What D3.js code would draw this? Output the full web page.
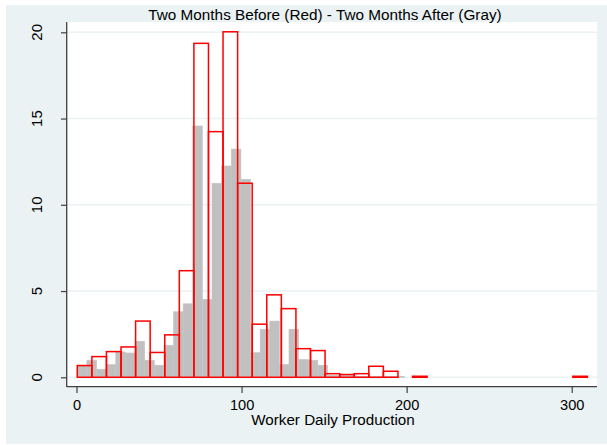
<!DOCTYPE html>
<html>
<head>
<meta charset="utf-8">
<script src="https://cdn.jsdelivr.net/npm/d3@7"></script>
<style>
  html, body { margin: 0; padding: 0; background: #ffffff; }
  svg { display: block; }
  text { font-family: "Liberation Sans", Arial, Helvetica, sans-serif; fill: #000; }
</style>
</head>
<body>
<svg id="chart" width="607" height="445"></svg>
<script>
// Percent of workers per bin, before period (red outline bars)
const beforeStart = 0.48;
const beforeWidth = 8.83;
const beforePct = [0.68, 1.2, 1.49, 1.76, 3.26, 1.44, 2.46, 6.18, 19.36, 14.24,
                   20.03, 11.25, 3.08, 4.78, 3.98, 1.66, 1.55, 0.21, 0.16, 0.21,
                   0.64, 0.35, 0, 0.06, 0, 0, 0, 0, 0, 0,
                   0, 0, 0, 0, 0.06];

// Percent of workers per bin, after period (gray filled bars)
const afterStart = 0.48;
const afterWidth = 5.83;
const afterPct = [0.7, 0.99, 0.47, 0.74, 1.47, 1.41, 2.09, 0.99, 0.7, 1.86,
                  3.8, 4.26, 14.57, 4.52, 11.25, 12.25, 13.23, 11.48, 1.43, 2.79,
                  3.26, 0.74, 2.79, 1.03, 0.99, 0.7, 0.12, 0.1, 0.1, 0.06,
                  0.06, 0.06, 0.06, 0.06];

const xTicks = [0, 100, 200, 300];
const yTicks = [0, 5, 10, 15, 20];
const titleText = "Two Months Before (Red) - Two Months After (Gray)";
const xTitle = "Worker Daily Production";

const svg = d3.select("#chart");

// graph and plot regions
const outer = { x0: 6, y0: 5, x1: 607, y1: 444 };
const plot = { x0: 67, y0: 22, x1: 597, y1: 387 };

const x = d3.scaleLinear().domain([0, 300]).range([76.5, 571.7]);
const y = d3.scaleLinear().domain([0, 20]).range([377.3, 32.3]);

svg.append("rect")
  .attr("x", outer.x0).attr("y", outer.y0)
  .attr("width", outer.x1 - outer.x0).attr("height", outer.y1 - outer.y0)
  .attr("fill", "#eaf2f3");

svg.append("rect")
  .attr("x", plot.x0).attr("y", plot.y0)
  .attr("width", plot.x1 - plot.x0).attr("height", plot.y1 - plot.y0)
  .attr("fill", "#ffffff");

// horizontal grid
svg.append("g").selectAll("line").data(yTicks).join("line")
  .attr("x1", plot.x0).attr("x2", plot.x1)
  .attr("y1", d => y(d)).attr("y2", d => y(d))
  .attr("stroke", "#eaf2f3").attr("stroke-width", 1.5);

const afterBins = afterPct.map((v, i) => ({
  lo: afterStart + i * afterWidth, hi: afterStart + (i + 1) * afterWidth, v }));
const beforeBins = beforePct.map((v, i) => ({
  lo: beforeStart + i * beforeWidth, hi: beforeStart + (i + 1) * beforeWidth, v }));

svg.append("g").selectAll("rect").data(afterBins.filter(d => d.v > 0)).join("rect")
  .attr("x", d => x(d.lo)).attr("width", d => x(d.hi) - x(d.lo))
  .attr("y", d => y(d.v)).attr("height", d => y(0) - y(d.v))
  .attr("fill", "#c0c0c0").attr("stroke", "#c4c4c4").attr("stroke-width", 0.6);

svg.append("g").selectAll("rect").data(beforeBins.filter(d => d.v > 0)).join("rect")
  .attr("x", d => x(d.lo)).attr("width", d => x(d.hi) - x(d.lo))
  .attr("y", d => y(d.v)).attr("height", d => y(0) - y(d.v))
  .attr("fill", "none").attr("stroke", "#ff0000").attr("stroke-width", 1.5);

// axes
const axisColor = "#404040";
svg.append("line")
  .attr("x1", plot.x0 - 0.3).attr("x2", plot.x0 - 0.3)
  .attr("y1", plot.y0).attr("y2", plot.y1)
  .attr("stroke", axisColor).attr("stroke-width", 1.3);
svg.append("line")
  .attr("x1", plot.x0 - 0.3).attr("x2", plot.x1)
  .attr("y1", plot.y1 - 0.3).attr("y2", plot.y1 - 0.3)
  .attr("stroke", axisColor).attr("stroke-width", 1.3);

const yAxis = d3.axisLeft(y).tickValues(yTicks).tickSize(6).tickFormat("");
svg.append("g").attr("transform", `translate(${plot.x0},0)`).call(yAxis)
  .call(g => g.select(".domain").remove())
  .call(g => g.selectAll(".tick line").attr("stroke", axisColor).attr("stroke-width", 1.2));

svg.append("g").selectAll("text").data(yTicks).join("text")
  .attr("transform", d => `translate(41.7,${y(d)}) rotate(-90)`)
  .attr("text-anchor", "middle")
  .attr("font-size", 15)
  .text(d => d);

const xAxis = d3.axisBottom(x).tickValues(xTicks).tickSize(6).tickPadding(4);
svg.append("g").attr("transform", `translate(0,${plot.y1})`).call(xAxis)
  .call(g => g.select(".domain").remove())
  .call(g => g.selectAll(".tick line").attr("stroke", axisColor).attr("stroke-width", 1.2))
  .call(g => g.selectAll(".tick text")
    .attr("font-size", 14.6)
    .attr("font-family", "Liberation Sans, Arial, sans-serif")
    .attr("fill", "#000")
    .attr("dy", null)
    .attr("y", 22.5));

svg.append("text")
  .attr("x", 325).attr("y", 19.5)
  .attr("text-anchor", "middle").attr("font-size", 15.3)
  .text(titleText);

svg.append("text")
  .attr("x", 333).attr("y", 425)
  .attr("text-anchor", "middle").attr("font-size", 15.2)
  .text(xTitle);
</script>
</body>
</html>
